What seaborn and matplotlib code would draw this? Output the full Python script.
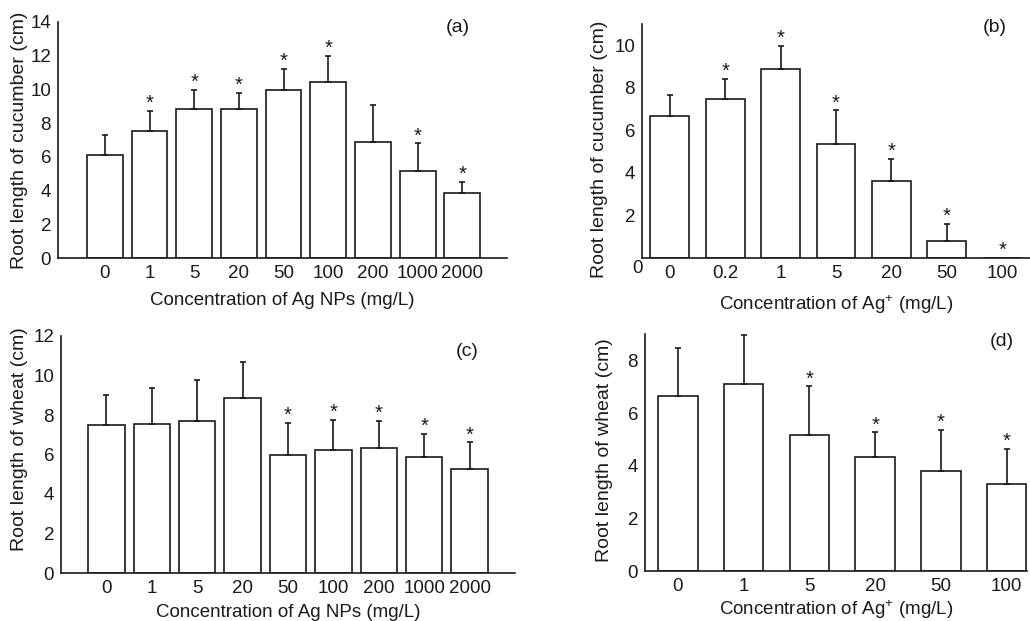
import numpy as np
import pandas as pd
import matplotlib
matplotlib.use("Agg")
import matplotlib.pyplot as plt
from matplotlib.ticker import MultipleLocator, FixedLocator
import seaborn as sns

sns.set_style("white")
plt.rcParams["font.family"] = ["Liberation Sans", "DejaVu Sans"]
plt.rcParams["mathtext.fontset"] = "custom"
plt.rcParams["mathtext.rm"] = "Liberation Sans"
plt.rcParams["mathtext.it"] = "Liberation Sans"

# (a) cucumber, Ag NPs
np_conc = ["0", "1", "5", "20", "50", "100", "200", "1000", "2000"]
cuc_np_mean = [6.13, 7.51, 8.84, 8.84, 9.95, 10.46, 6.90, 5.14, 3.88]
cuc_np_sd = [1.15, 1.23, 1.15, 0.97, 1.28, 1.52, 2.18, 1.66, 0.63]
cuc_np_sig = [False, True, True, True, True, True, False, True, True]

# (b) cucumber, Ag+
ion_conc_b = ["0", "0.2", "1", "5", "20", "50", "100"]
cuc_ion_mean = [6.69, 7.49, 8.89, 5.35, 3.61, 0.78, 0.0]
cuc_ion_sd = [0.97, 0.94, 1.08, 1.59, 1.05, 0.82, 0.0]
cuc_ion_sig = [False, True, True, True, True, True, True]

# (c) wheat, Ag NPs
wheat_np_mean = [7.50, 7.55, 7.70, 8.85, 6.00, 6.24, 6.32, 5.87, 5.29]
wheat_np_sd = [1.50, 1.84, 2.08, 1.85, 1.62, 1.51, 1.40, 1.16, 1.33]
wheat_np_sig = [False, False, False, False, True, True, True, True, True]

# (d) wheat, Ag+
ion_conc_d = ["0", "1", "5", "20", "50", "100"]
wheat_ion_mean = [6.63, 7.10, 5.17, 4.34, 3.78, 3.30]
wheat_ion_sd = [1.83, 1.88, 1.84, 0.92, 1.57, 1.35]
wheat_ion_sig = [False, False, True, True, True, True]

INK = "#1a1a1a"
LW = 1.2
FS = 13.5
FS_Y = 14

fig = plt.figure(figsize=(10.30, 6.21), dpi=100)
W, H = 1030.0, 621.0


def px_axes(left, top, right, bottom):
    return fig.add_axes([left / W, 1 - bottom / H, (right - left) / W, (bottom - top) / H])


def panel(ax, cats, mean, sd, sig, width, xlim, ylim, ymajor, ylabel, xlabel, tag,
          tag_xy, show_zero=True):
    df = pd.DataFrame({"conc": cats, "length": mean})
    sns.barplot(data=df, x="conc", y="length", order=cats, ax=ax, width=width,
                color="white", edgecolor=INK, linewidth=LW, errorbar=None,
                saturation=1)
    x = np.arange(len(cats))
    m = np.array(mean)
    s = np.array(sd)
    keep = s > 0
    ax.errorbar(x[keep], m[keep], yerr=[np.zeros(keep.sum()), s[keep]], fmt="none",
                ecolor=INK, elinewidth=LW, capsize=2.5, capthick=LW)
    for xi, mi, si, star in zip(x, m, s, sig):
        if star:
            ax.annotate("*", (xi, mi + si), xytext=(0, -1.5), textcoords="offset points",
                        ha="center", va="bottom", fontsize=FS + 1, color=INK)
    ax.set_xlim(*xlim)
    ax.set_ylim(*ylim)
    ax.yaxis.set_major_locator(MultipleLocator(ymajor))
    ax.yaxis.set_minor_locator(MultipleLocator(ymajor / 2))
    ax.xaxis.set_minor_locator(FixedLocator(np.arange(len(cats) + 1) - 0.5))
    ax.tick_params(axis="both", which="both", direction="in", color=INK, width=LW,
                   labelsize=FS, labelcolor=INK)
    ax.tick_params(which="major", length=4, pad=5)
    ax.tick_params(which="minor", length=2.5)
    for side in ("top", "right"):
        ax.spines[side].set_visible(False)
    for side in ("left", "bottom"):
        ax.spines[side].set_color(INK)
        ax.spines[side].set_linewidth(LW)
    ax.set_xlabel(xlabel, fontsize=FS, color=INK)
    ax.set_ylabel(ylabel, fontsize=FS_Y, color=INK)
    ax.text(tag_xy[0], tag_xy[1], tag, transform=fig.transFigure, fontsize=FS + 0.5,
            ha="center", va="center", color=INK)
    if not show_zero:
        ticks = [t for t in ax.get_yticks() if t > 0 and t <= ylim[1]]
        ax.set_yticks(ticks)
        ax.set_yticklabels([f"{t:g}" for t in ticks])
        ax.text(0.003, -0.043, "0", transform=ax.transAxes, fontsize=FS,
                ha="right", va="center", color=INK)


ax_a = px_axes(58, 22, 507, 258)
panel(ax_a, np_conc, cuc_np_mean, cuc_np_sd, cuc_np_sig, 0.8, (-1.05, 9.0), (0, 14), 2,
      "Root length of cucumber (cm)", "Concentration of Ag NPs (mg/L)", "(a)",
      (458 / W, 1 - 27 / H))
ax_a.yaxis.set_label_coords(-0.067, 0.5)
ax_a.xaxis.set_label_coords(0.5, -0.145)

ax_b = px_axes(642, 24, 1030, 258)
panel(ax_b, ion_conc_b, cuc_ion_mean, cuc_ion_sd, cuc_ion_sig, 0.7, (-0.5, 6.5), (0, 11), 2,
      "Root length of cucumber (cm)", "Concentration of Ag$^{+}$ (mg/L)", "(b)",
      (995 / W, 1 - 27 / H), show_zero=False)
ax_b.yaxis.set_label_coords(-0.088, 0.466)
ax_b.xaxis.set_label_coords(0.5, -0.15)

ax_c = px_axes(61, 336, 515, 573)
panel(ax_c, np_conc, wheat_np_mean, wheat_np_sd, wheat_np_sig, 0.8, (-1.0, 9.0), (0, 12), 2,
      "Root length of wheat (cm)", "Concentration of Ag NPs (mg/L)", "(c)",
      (467 / W, 1 - 352 / H))
ax_c.yaxis.set_label_coords(-0.073, 0.565)
ax_c.xaxis.set_label_coords(0.5, -0.13)

ax_d = px_axes(645, 334, 1027, 571)
panel(ax_d, ion_conc_d, wheat_ion_mean, wheat_ion_sd, wheat_ion_sig, 0.6, (-0.5, 5.31), (0, 9), 2,
      "Root length of wheat (cm)", "Concentration of Ag$^{+}$ (mg/L)", "(d)",
      (1002 / W, 1 - 342 / H))
ax_d.yaxis.set_label_coords(-0.084, 0.51)
ax_d.xaxis.set_label_coords(0.5, -0.115)

fig.savefig("out.png", dpi=100, facecolor="white")
